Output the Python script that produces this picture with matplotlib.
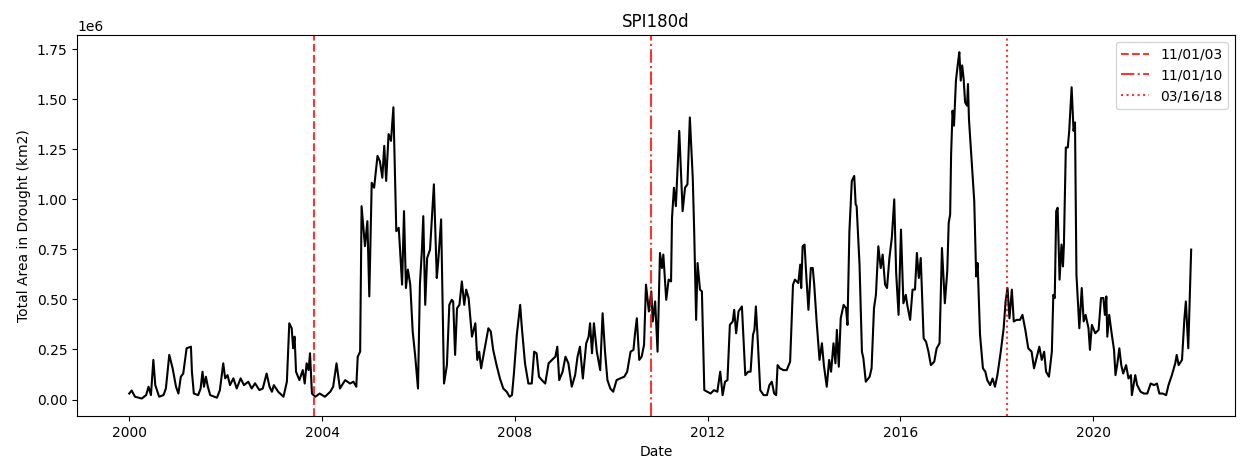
import numpy as np
import pandas as pd
import matplotlib
matplotlib.use("Agg")
import matplotlib.pyplot as plt

# decimal year of each reading, drought area in million km2
years = [
    2000.00, 2000.05, 2000.12, 2000.26, 2000.35, 2000.40, 2000.45, 2000.50, 2000.54, 2000.62,
    2000.71, 2000.76, 2000.83, 2000.90, 2000.97, 2001.02, 2001.07, 2001.12, 2001.19, 2001.28,
    2001.30, 2001.34, 2001.43, 2001.48, 2001.52, 2001.55, 2001.59, 2001.63, 2001.68, 2001.82,
    2001.88, 2001.95, 2001.99, 2002.04, 2002.09, 2002.16, 2002.23, 2002.31, 2002.38, 2002.47,
    2002.54, 2002.61, 2002.70, 2002.77, 2002.85, 2002.91, 2002.96, 2003.00, 2003.09, 2003.20,
    2003.27, 2003.32, 2003.37, 2003.40, 2003.43, 2003.46, 2003.53, 2003.60, 2003.64, 2003.68,
    2003.72, 2003.75, 2003.79, 2003.86, 2003.95, 2004.06, 2004.17, 2004.23, 2004.30, 2004.37,
    2004.48, 2004.58, 2004.65, 2004.71, 2004.74, 2004.79, 2004.82, 2004.89, 2004.94, 2004.98,
    2005.03, 2005.08, 2005.15, 2005.20, 2005.25, 2005.29, 2005.33, 2005.38, 2005.43, 2005.48,
    2005.54, 2005.59, 2005.62, 2005.66, 2005.70, 2005.74, 2005.78, 2005.83, 2005.88, 2005.93,
    2005.99, 2006.03, 2006.07, 2006.10, 2006.14, 2006.18, 2006.24, 2006.32, 2006.38, 2006.41,
    2006.47, 2006.53, 2006.59, 2006.64, 2006.69, 2006.72, 2006.76, 2006.80, 2006.85, 2006.90,
    2006.95, 2006.99, 2007.04, 2007.11, 2007.18, 2007.22, 2007.26, 2007.30, 2007.35, 2007.45,
    2007.50, 2007.55, 2007.62, 2007.69, 2007.76, 2007.83, 2007.89, 2007.94, 2007.98, 2008.04,
    2008.11, 2008.14, 2008.21, 2008.28, 2008.35, 2008.40, 2008.45, 2008.50, 2008.56, 2008.63,
    2008.70, 2008.77, 2008.84, 2008.88, 2008.92, 2008.99, 2009.05, 2009.11, 2009.18, 2009.25,
    2009.30, 2009.35, 2009.41, 2009.48, 2009.53, 2009.56, 2009.60, 2009.64, 2009.70, 2009.77,
    2009.82, 2009.87, 2009.92, 2009.98, 2010.04, 2010.11, 2010.18, 2010.27, 2010.33, 2010.40,
    2010.46, 2010.49, 2010.53, 2010.58, 2010.63, 2010.68, 2010.72, 2010.78, 2010.83, 2010.86,
    2010.91, 2010.96, 2011.01, 2011.05, 2011.08, 2011.14, 2011.19, 2011.24, 2011.26, 2011.30,
    2011.34, 2011.41, 2011.48, 2011.53, 2011.58, 2011.63, 2011.69, 2011.72, 2011.76, 2011.79,
    2011.84, 2011.88, 2011.93, 2011.99, 2012.06, 2012.13, 2012.20, 2012.26, 2012.31, 2012.36,
    2012.41, 2012.46, 2012.52, 2012.55, 2012.59, 2012.64, 2012.71, 2012.78, 2012.84, 2012.89,
    2012.94, 2012.97, 2013.00, 2013.04, 2013.09, 2013.16, 2013.23, 2013.28, 2013.33, 2013.38,
    2013.42, 2013.45, 2013.50, 2013.57, 2013.64, 2013.71, 2013.77, 2013.81, 2013.88, 2013.92,
    2013.94, 2013.97, 2014.01, 2014.04, 2014.09, 2014.14, 2014.18, 2014.21, 2014.26, 2014.32,
    2014.37, 2014.41, 2014.47, 2014.52, 2014.56, 2014.61, 2014.65, 2014.68, 2014.72, 2014.76,
    2014.82, 2014.87, 2014.90, 2014.94, 2014.99, 2015.04, 2015.07, 2015.09, 2015.15, 2015.20,
    2015.23, 2015.28, 2015.36, 2015.40, 2015.45, 2015.49, 2015.54, 2015.59, 2015.63, 2015.68,
    2015.72, 2015.77, 2015.82, 2015.87, 2015.91, 2015.96, 2016.01, 2016.06, 2016.11, 2016.14,
    2016.20, 2016.25, 2016.30, 2016.34, 2016.38, 2016.42, 2016.48, 2016.53, 2016.58, 2016.63,
    2016.70, 2016.75, 2016.81, 2016.86, 2016.92, 2016.97, 2017.00, 2017.03, 2017.05, 2017.08,
    2017.11, 2017.15, 2017.19, 2017.22, 2017.25, 2017.28, 2017.31, 2017.34, 2017.38, 2017.40,
    2017.42, 2017.48, 2017.53, 2017.57, 2017.60, 2017.65, 2017.71, 2017.76, 2017.80, 2017.86,
    2017.91, 2017.96, 2018.01, 2018.08, 2018.14, 2018.18, 2018.22, 2018.26, 2018.31, 2018.35,
    2018.41, 2018.48, 2018.53, 2018.59, 2018.65, 2018.72, 2018.77, 2018.83, 2018.88, 2018.93,
    2018.98, 2019.02, 2019.08, 2019.14, 2019.17, 2019.20, 2019.23, 2019.26, 2019.30, 2019.34,
    2019.37, 2019.39, 2019.43, 2019.47, 2019.50, 2019.55, 2019.59, 2019.62, 2019.65, 2019.71,
    2019.76, 2019.80, 2019.84, 2019.90, 2019.93, 2019.97, 2020.04, 2020.11, 2020.16, 2020.21,
    2020.24, 2020.27, 2020.29, 2020.33, 2020.38, 2020.43, 2020.46, 2020.50, 2020.54, 2020.58,
    2020.62, 2020.68, 2020.73, 2020.78, 2020.80, 2020.87, 2020.91, 2020.98, 2021.05, 2021.12,
    2021.19, 2021.26, 2021.32, 2021.37, 2021.44, 2021.51, 2021.56, 2021.63, 2021.70, 2021.73,
    2021.77, 2021.84, 2021.89, 2021.92, 2021.97, 2022.00, 2022.03,
]
area_mkm2 = [
    0.030, 0.045, 0.014, 0.005, 0.022, 0.064, 0.022, 0.198, 0.072, 0.014,
    0.022, 0.055, 0.223, 0.156, 0.064, 0.030, 0.114, 0.130, 0.256, 0.264,
    0.139, 0.030, 0.022, 0.055, 0.139, 0.064, 0.114, 0.064, 0.022, 0.009,
    0.047, 0.181, 0.106, 0.122, 0.072, 0.106, 0.055, 0.106, 0.072, 0.089,
    0.055, 0.081, 0.047, 0.055, 0.130, 0.064, 0.039, 0.072, 0.039, 0.014,
    0.089, 0.381, 0.356, 0.256, 0.314, 0.139, 0.097, 0.147, 0.080, 0.181,
    0.147, 0.231, 0.030, 0.014, 0.030, 0.014, 0.039, 0.064, 0.181, 0.055,
    0.097, 0.080, 0.089, 0.064, 0.214, 0.239, 0.966, 0.766, 0.891, 0.515,
    1.083, 1.058, 1.217, 1.190, 1.108, 1.267, 1.092, 1.326, 1.292, 1.460,
    0.841, 0.858, 0.741, 0.574, 0.941, 0.557, 0.649, 0.574, 0.340, 0.223,
    0.055, 0.574, 0.741, 0.916, 0.473, 0.707, 0.749, 1.075, 0.607, 0.690,
    0.900, 0.080, 0.172, 0.473, 0.498, 0.490, 0.223, 0.456, 0.473, 0.590,
    0.473, 0.549, 0.507, 0.314, 0.381, 0.198, 0.239, 0.156, 0.223, 0.356,
    0.340, 0.248, 0.172, 0.105, 0.055, 0.039, 0.014, 0.022, 0.130, 0.323,
    0.473, 0.373, 0.181, 0.080, 0.080, 0.239, 0.231, 0.114, 0.097, 0.080,
    0.181, 0.198, 0.214, 0.264, 0.097, 0.139, 0.214, 0.181, 0.064, 0.122,
    0.214, 0.264, 0.105, 0.281, 0.314, 0.381, 0.231, 0.381, 0.239, 0.147,
    0.431, 0.239, 0.097, 0.055, 0.039, 0.097, 0.105, 0.114, 0.139, 0.239,
    0.248, 0.323, 0.406, 0.198, 0.214, 0.273, 0.574, 0.440, 0.540, 0.390,
    0.490, 0.239, 0.732, 0.657, 0.724, 0.498, 0.599, 0.590, 0.908, 1.058,
    0.966, 1.342, 0.941, 1.058, 1.075, 1.409, 1.108, 0.841, 0.398, 0.682,
    0.549, 0.540, 0.047, 0.039, 0.030, 0.047, 0.039, 0.139, 0.022, 0.089,
    0.097, 0.373, 0.390, 0.448, 0.331, 0.440, 0.465, 0.122, 0.139, 0.139,
    0.323, 0.348, 0.465, 0.289, 0.047, 0.022, 0.022, 0.072, 0.089, 0.030,
    0.022, 0.172, 0.156, 0.147, 0.147, 0.189, 0.574, 0.599, 0.582, 0.674,
    0.557, 0.766, 0.774, 0.641, 0.448, 0.657, 0.657, 0.574, 0.390, 0.198,
    0.281, 0.172, 0.064, 0.198, 0.139, 0.281, 0.181, 0.348, 0.164, 0.406,
    0.473, 0.456, 0.373, 0.841, 1.092, 1.117, 0.975, 0.966, 0.674, 0.239,
    0.206, 0.089, 0.114, 0.156, 0.456, 0.523, 0.766, 0.657, 0.724, 0.574,
    0.557, 0.707, 0.808, 1.000, 0.632, 0.423, 0.849, 0.481, 0.523, 0.473,
    0.398, 0.549, 0.549, 0.732, 0.607, 0.707, 0.306, 0.289, 0.239, 0.172,
    0.189, 0.256, 0.281, 0.757, 0.481, 0.641, 0.883, 0.924, 1.226, 1.443,
    1.368, 1.593, 1.677, 1.735, 1.593, 1.669, 1.601, 1.485, 1.468, 1.576,
    1.401, 1.175, 0.991, 0.615, 0.682, 0.323, 0.156, 0.139, 0.097, 0.072,
    0.105, 0.064, 0.122, 0.239, 0.356, 0.490, 0.557, 0.406, 0.549, 0.390,
    0.398, 0.398, 0.423, 0.348, 0.256, 0.239, 0.156, 0.214, 0.264, 0.198,
    0.239, 0.139, 0.114, 0.239, 0.523, 0.507, 0.941, 0.958, 0.599, 0.774,
    0.665, 0.774, 1.259, 1.259, 1.342, 1.560, 1.342, 1.384, 0.624, 0.356,
    0.557, 0.390, 0.423, 0.356, 0.248, 0.373, 0.331, 0.348, 0.507, 0.507,
    0.423, 0.515, 0.314, 0.423, 0.331, 0.248, 0.122, 0.181, 0.256, 0.172,
    0.130, 0.172, 0.105, 0.122, 0.022, 0.122, 0.072, 0.039, 0.030, 0.030,
    0.080, 0.072, 0.080, 0.030, 0.030, 0.022, 0.072, 0.122, 0.181, 0.223,
    0.172, 0.198, 0.406, 0.490, 0.256, 0.507, 0.749,
]

event_dates = ["2003-11-01", "2010-11-01", "2018-03-16"]
event_labels = ["11/01/03", "11/01/10", "03/16/18"]
event_styles = ["--", "-.", ":"]

start = pd.Timestamp("2000-01-01")
dates = [start + pd.Timedelta(days=(y - 2000) * 365.25) for y in years]
area = np.array(area_mkm2) * 1e6

fig, ax = plt.subplots(figsize=(12.46, 4.59), dpi=100)
fig.subplots_adjust(left=0.062, right=0.991, top=0.924, bottom=0.094)

ax.plot(dates, area, color="k")
for d, lab, ls in zip(event_dates, event_labels, event_styles):
    ax.axvline(pd.Timestamp(d), color="red", alpha=0.8, linestyle=ls, label=lab)

ax.set_xlim(pd.Timestamp("1998-12-03"), pd.Timestamp("2022-12-08"))
ax.set_title("SPI180d")
ax.set_xlabel("Date")
ax.set_ylabel("Total Area in Drought (km2)")
ax.legend(loc="upper right")

fig.savefig("out.png", dpi=100)
